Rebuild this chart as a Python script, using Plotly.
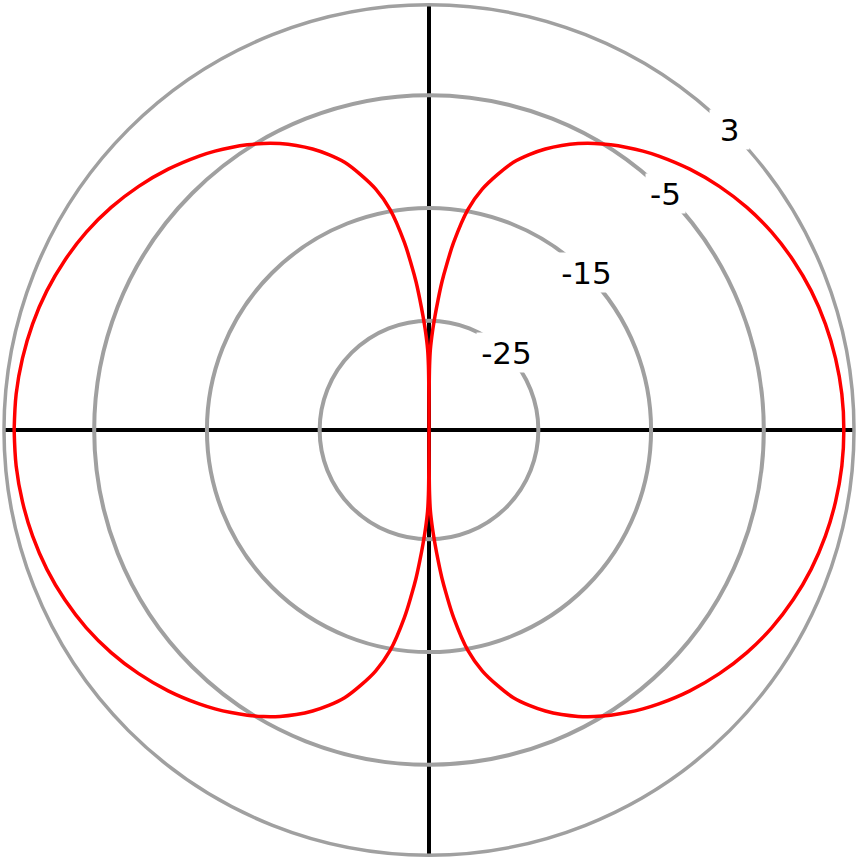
import plotly.graph_objects as go

# radiation pattern of one quadrant (angle in deg, gain in dB)
theta_q = [0, 5, 10, 15, 20, 25, 30, 35, 40, 45, 50, 52.5, 55, 57.5, 60,
           62.5, 65, 67.5, 70, 72.5, 75, 77.5, 80, 82.5, 84, 85, 86, 87, 88,
           89, 89.5, 89.8, 90]
gain_q = [2.1, 2.06, 1.92, 1.70, 1.38, 0.94, 0.40, -0.28, -1.08, -1.98,
          -2.98, -3.52, -4.10, -4.70, -5.35, -6.06, -6.85, -7.72, -8.7,
          -9.8, -11.25, -12.8, -14.85, -17.9, -20.1, -21.5, -23.1, -24.6,
          -26.0, -27.5, -29.0, -31.5, -34.7]

grid_vals = [-25, -15, -5]
tick_labels = ["3", "-5", "-15", "-25"]
tick_vals = [3, -5, -15, -25]
r_min, r_max = -34.7, 3

# pattern is symmetric about both axes -> mirror the quadrant
theta = (theta_q
         + [180 - t for t in theta_q[::-1]]
         + [180 + t for t in theta_q]
         + [360 - t for t in theta_q[::-1]])
gain = gain_q + gain_q[::-1] + gain_q + gain_q[::-1]

W = H = 858
cx, cy, R = 429, 430, 425  # pixel centre / radius of the polar area

fig = go.Figure()
fig.add_trace(go.Scatterpolar(
    r=gain, theta=theta, mode='lines',
    line=dict(color='#ff0000', width=3.5, shape='spline', smoothing=1),
    hoverinfo='skip', showlegend=False,
))

# tick labels sit on the circles at 45 deg, with a white gap cut in the ring
annotations = []
for txt, v in zip(tick_labels, tick_vals):
    rp = (v - r_min) / (r_max - r_min) * R
    xp = cx + rp * 0.7071
    yp = cy - rp * 0.7071
    annotations.append(dict(
        x=xp / W, y=1 - yp / H, xref='paper', yref='paper',
        text=txt, showarrow=False, xanchor='center', yanchor='middle',
        font=dict(family='DejaVu Sans', size=31, color='black'),
        bgcolor='white', width=37 if len(txt) < 3 else 57, height=37,
    ))

fig.update_layout(
    width=W, height=H,
    margin=dict(l=0, r=0, t=0, b=0),
    paper_bgcolor='white',
    showlegend=False,
    annotations=annotations,
    polar=dict(
        domain=dict(x=[(cx - R) / W, (cx + R) / W],
                    y=[(H - cy - R) / H, (H - cy + R) / H]),
        bgcolor='white',
        radialaxis=dict(
            range=[r_min, r_max], tickvals=grid_vals,
            showticklabels=False, ticks='', showline=False,
            gridcolor='#a0a0a0', gridwidth=3.5,
        ),
        angularaxis=dict(
            tickvals=[0, 90, 180, 270], showticklabels=False, ticks='',
            gridcolor='black', gridwidth=3.5,
            showline=True, linecolor='#a0a0a0', linewidth=3.5,
        ),
    ),
)

# drop the browser's default body margin so the figure sits at the page corner
fig.write_html("out.html", config={'displayModeBar': False},
               post_script="document.body.style.margin='0px';")
